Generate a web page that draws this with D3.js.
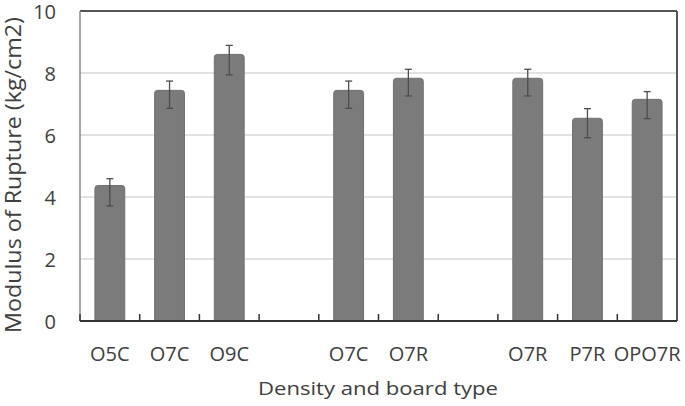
<!DOCTYPE html>
<html>
<head>
<meta charset="utf-8">
<script src="https://cdn.jsdelivr.net/npm/d3@7"></script>
<style>
  html, body { margin: 0; padding: 0; background: #fff; }
  svg { display: block; }
  text { font-family: "Open Sans", "Noto Sans", sans-serif; fill: #404040; }
</style>
</head>
<body>
<svg id="chart" width="685" height="406"></svg>
<script>
// ---- data ----
const slots = ["s1", "s2", "s3", "s4", "s5", "s6", "s7", "s8", "s9", "s10"];
const categories = ["O5C", "O7C", "O9C", "", "O7C", "O7R", "", "O7R", "P7R", "OPO7R"];
const values = [4.37, 7.44, 8.6, null, 7.44, 7.83, null, 7.83, 6.54, 7.15];
const errHigh = [4.59, 7.74, 8.89, null, 7.74, 8.12, null, 8.12, 6.85, 7.40];
const errLow = [3.71, 6.86, 7.94, null, 6.86, 7.26, null, 7.26, 5.91, 6.53];
const yTicks = [0, 2, 4, 6, 8, 10];
const xTitle = "Density and board type";
const yTitle = "Modulus of Rupture (kg/cm2)";

// ---- layout ----
const L = 80, R = 677, T = 11, B = 321;

const svg = d3.select("#chart");
const x = d3.scaleBand().domain(slots).range([L, R]).paddingInner(0.5).paddingOuter(0.25);
const y = d3.scaleLinear().domain([0, 10]).range([B, T]);

// gridlines
svg.append("g").selectAll("line").data(yTicks.filter(t => t > 0 && t < 10)).join("line")
  .attr("x1", L).attr("x2", R).attr("y1", d => y(d)).attr("y2", d => y(d))
  .attr("stroke", "#d9d9d9").attr("stroke-width", 1.5);

// y axis labels
const yAxis = d3.axisLeft(y).tickValues(yTicks).tickSize(0).tickPadding(0);
const gy = svg.append("g").attr("transform", `translate(${L - 24},0)`).call(yAxis);
gy.select(".domain").remove();
gy.selectAll("text").style("font-size", "20px").attr("fill", "#404040").attr("dy", "0.36em");

// plot frame
svg.append("line").attr("x1", L).attr("x2", R).attr("y1", y(10)).attr("y2", y(10))
  .attr("stroke", "#555").attr("stroke-width", 2);
svg.append("line").attr("x1", R).attr("x2", R).attr("y1", y(10)).attr("y2", B)
  .attr("stroke", "#555").attr("stroke-width", 2);
svg.append("line").attr("x1", L).attr("x2", L).attr("y1", y(10)).attr("y2", B)
  .attr("stroke", "#8c8c8c").attr("stroke-width", 1.5);

// bars
const data = slots.map((s, i) => ({ s, v: values[i], hi: errHigh[i], lo: errLow[i] })).filter(d => d.v != null);
svg.append("g").selectAll("path").data(data).join("path")
  .attr("d", d => {
    const x0 = x(d.s), w = x.bandwidth(), y0 = y(d.v), r = 3;
    return `M${x0},${B} L${x0},${y0 + r} Q${x0},${y0} ${x0 + r},${y0} L${x0 + w - r},${y0} Q${x0 + w},${y0} ${x0 + w},${y0 + r} L${x0 + w},${B} Z`;
  })
  .attr("fill", "#7b7b7b").attr("stroke", "#707070").attr("stroke-width", 1);

// error bars
const eb = svg.append("g").attr("stroke", "#4d4d4d").attr("stroke-width", 1.3);
data.forEach(d => {
  const cx = x(d.s) + x.bandwidth() / 2;
  eb.append("line").attr("x1", cx).attr("x2", cx).attr("y1", y(d.hi)).attr("y2", y(d.lo));
  eb.append("line").attr("x1", cx - 3.5).attr("x2", cx + 3.5).attr("y1", y(d.hi)).attr("y2", y(d.hi));
  eb.append("line").attr("x1", cx - 3.5).attr("x2", cx + 3.5).attr("y1", y(d.lo)).attr("y2", y(d.lo));
});

// bottom axis line and inner ticks at slot boundaries
const step = x.step();
const boundaries = d3.range(slots.length).map(i => L + i * step);
svg.append("g").selectAll("line").data(boundaries).join("line")
  .attr("x1", d => d).attr("x2", d => d).attr("y1", B).attr("y2", B - 7)
  .attr("stroke", "#333").attr("stroke-width", 1.5);
svg.append("line").attr("x1", L).attr("x2", R).attr("y1", B).attr("y2", B)
  .attr("stroke", "#333").attr("stroke-width", 2);

// category labels, centred under their slots (last one nudged to stay inside)
svg.append("g").selectAll("text")
  .data(categories.map((c, i) => ({ c, s: slots[i] })).filter(d => d.c))
  .join("text")
  .attr("x", d => x(d.s) + x.bandwidth() / 2).attr("y", 361).attr("text-anchor", "middle")
  .style("font-size", "20px").text(d => d.c)
  .each(function () {
    const bb = this.getBBox();
    if (bb.x + bb.width > 683) d3.select(this).attr("x", +d3.select(this).attr("x") - (bb.x + bb.width - 683));
  });

// axis titles
svg.append("text").attr("x", 378).attr("y", 395).attr("text-anchor", "middle")
  .style("font-size", "19px").text(xTitle)
  .attr("textLength", 240).attr("lengthAdjust", "spacingAndGlyphs");
svg.append("text").attr("transform", `translate(21,175) rotate(-90)`).attr("text-anchor", "middle")
  .style("font-size", "21px").text(yTitle)
  .attr("textLength", 316).attr("lengthAdjust", "spacingAndGlyphs");
</script>
</body>
</html>
